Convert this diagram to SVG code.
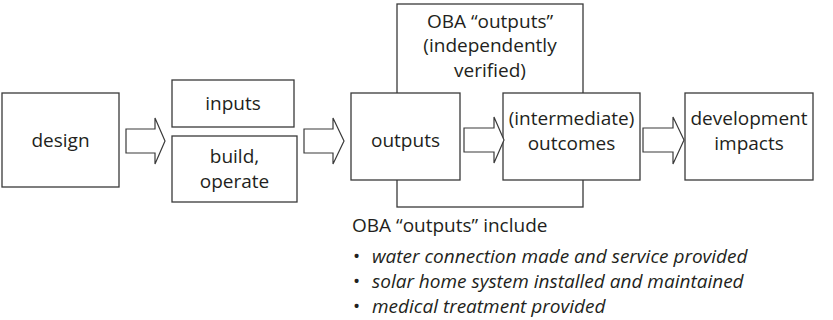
<svg xmlns="http://www.w3.org/2000/svg" width="833" height="320" viewBox="0 0 833 320">
<style>
.box{fill:#fff;stroke:#3a3a3a;stroke-width:1.3}
.arr{fill:#fff;stroke:#3a3a3a;stroke-width:1.2;stroke-linejoin:miter}
text{font-family:"Open Sans","Noto Sans",sans-serif;font-size:19px;fill:#231f20}
.c{text-anchor:middle}
.i{font-style:italic}
</style>
<rect width="833" height="320" fill="#fff"/>
<g id="oba">
<rect class="box" x="397" y="4" width="186" height="203"/>
<text class="c" x="490" y="27.5">OBA “outputs”</text>
<text class="c" x="490" y="52">(independently</text>
<text class="c" x="490" y="76.5">verified)</text>
</g>
<g id="design">
<rect class="box" x="2" y="93" width="117" height="94"/>
<text class="c" x="60.5" y="147">design</text>
</g>
<g id="inputs">
<rect class="box" x="172" y="80" width="122" height="47"/>
<text class="c" x="233" y="110">inputs</text>
</g>
<g id="build">
<rect class="box" x="172" y="136" width="125" height="66"/>
<text class="c" x="234.5" y="163">build,</text>
<text class="c" x="234.5" y="188">operate</text>
</g>
<g id="outputs">
<rect class="box" x="351" y="93" width="109" height="87"/>
<text class="c" x="405.5" y="147">outputs</text>
</g>
<g id="outcomes">
<rect class="box" x="503" y="93" width="137" height="87"/>
<text class="c" x="571.5" y="125">(intermediate)</text>
<text class="c" x="571.5" y="150">outcomes</text>
</g>
<g id="impacts">
<rect class="box" x="685" y="93" width="128" height="87"/>
<text class="c" x="749" y="125">development</text>
<text class="c" x="749" y="150">impacts</text>
</g>
<g id="connectors">
<polygon class="arr" points="126,129 155,129 155,118 165,141 155,164 155,153 126,153"/>
<polygon class="arr" points="304,129 333,129 333,118 344,141 333,164 333,153 304,153"/>
<polygon class="arr" points="464,128 494,128 494,117 504,140 494,163 494,152 464,152"/>
<polygon class="arr" points="643,128 673,128 673,117 684,140 673,164 673,152 643,152"/>
</g>
<g id="notes">
<text x="352" y="232">OBA “outputs” include</text>
<text x="353" y="263" font-size="13">•</text>
<text class="i" x="372" y="263">water connection made and service provided</text>
<text x="353" y="288" font-size="13">•</text>
<text class="i" x="372" y="288">solar home system installed and maintained</text>
<text x="353" y="313" font-size="13">•</text>
<text class="i" x="372" y="313">medical treatment provided</text>
</g>
</svg>
